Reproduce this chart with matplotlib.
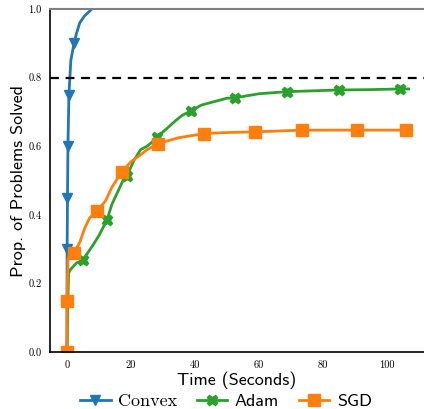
import matplotlib
matplotlib.use('Agg')
import matplotlib.pyplot as plt

# Convex
convex_t = [0.0, 0.0, 0.05, 0.15, 0.3, 0.6, 1.2, 2.2, 3.0, 4.0, 5.5, 7.8]
convex_y = [0.0, 0.15, 0.30, 0.45, 0.60, 0.75, 0.85, 0.90, 0.93, 0.96, 0.98, 1.0]
convex_marks = [1, 2, 3, 4, 5, 7]

# Adam
adam_t = [0.0, 0.3, 0.5, 1.0, 3.0, 4.9, 8.0, 10.0, 12.5, 14.0, 16.0, 17.5, 18.7,
          21.0, 23.0, 25.0, 27.0, 28.2, 31.0, 34.0, 36.0, 38.7, 42.0, 46.0, 50.0,
          52.5, 60.0, 68.75, 75.0, 84.9, 95.0, 104.0, 106.8]
adam_y = [0.0, 0.15, 0.23, 0.24, 0.26, 0.268, 0.31, 0.34, 0.385, 0.43, 0.47, 0.50, 0.513,
          0.56, 0.59, 0.60, 0.615, 0.627, 0.65, 0.675, 0.69, 0.703, 0.72, 0.73, 0.74,
          0.741, 0.753, 0.759, 0.761, 0.764, 0.765, 0.767, 0.767]
adam_marks = [1, 5, 8, 12, 17, 21, 25, 27, 29, 31]

# SGD
sgd_t = [0.0, 0.0, 0.3, 0.6, 2.2, 4.0, 5.5, 7.0, 9.3, 12.0, 14.0, 17.2, 20.0, 23.0,
         25.0, 28.5, 35.0, 42.9, 50.0, 58.9, 73.4, 90.6, 106.0, 107.8]
sgd_y = [0.0, 0.15, 0.27, 0.28, 0.29, 0.32, 0.36, 0.39, 0.411, 0.44, 0.48, 0.526, 0.555, 0.575,
         0.59, 0.608, 0.625, 0.637, 0.640, 0.642, 0.647, 0.647, 0.647, 0.647]
sgd_marks = [0, 1, 4, 8, 11, 15, 17, 19, 20, 21, 22]

xticks = [0, 20, 40, 60, 80, 100]
yticks = [0.0, 0.2, 0.4, 0.6, 0.8, 1.0]


def main():
    fig = plt.figure(figsize=(4.24, 4.09), dpi=100)
    ax = fig.add_axes([0.118, 0.139, 0.882, 0.839])

    l1, = ax.plot(convex_t, convex_y, color='#1f77b4', lw=2.0, marker='v', ms=7.5,
                  markevery=convex_marks, label='Convex')
    l2, = ax.plot(adam_t, adam_y, color='#2ca02c', lw=2.0, marker='X', ms=7.5,
                  markevery=adam_marks, label='Adam')
    l3, = ax.plot(sgd_t, sgd_y, color='#ff7f0e', lw=2.0, marker='s', ms=8.5,
                  markevery=sgd_marks, label='SGD')
    ax.axhline(0.8, color='black', ls='--', lw=1.6, dashes=(4, 3))

    ax.set_xlim(-5.3, 111.6)
    ax.set_ylim(0.0, 1.0)
    ax.set_xticks(xticks)
    ax.set_yticks(yticks)
    ax.set_xticklabels([str(v) for v in xticks], family='cmr10', fontsize=7.5)
    ax.set_yticklabels(['%.1f' % v for v in yticks], family='cmr10', fontsize=7.5)
    ax.tick_params(length=0, pad=6)

    ax.spines['right'].set_visible(False)
    ax.spines['top'].set_color('gray')
    ax.spines['top'].set_linewidth(1.5)
    ax.spines['left'].set_linewidth(1.2)
    ax.spines['bottom'].set_linewidth(1.2)

    ax.set_xlabel('Time (Seconds)', fontsize=13, family='cmss10', labelpad=1)
    ax.set_ylabel('Prop. of Problems Solved', fontsize=13, family='cmss10', labelpad=1.5)

    leg = ax.legend(handles=[l1, l2, l3], loc='upper center', bbox_to_anchor=(0.47, -0.1),
                    ncol=3, frameon=False, prop={'family': 'cmss10', 'size': 13},
                    handlelength=1.7, columnspacing=1.1, handletextpad=0.4, borderaxespad=0)
    leg.get_texts()[0].set_family('cmr10')

    plt.savefig('out.png', dpi=100)


if __name__ == '__main__':
    main()
